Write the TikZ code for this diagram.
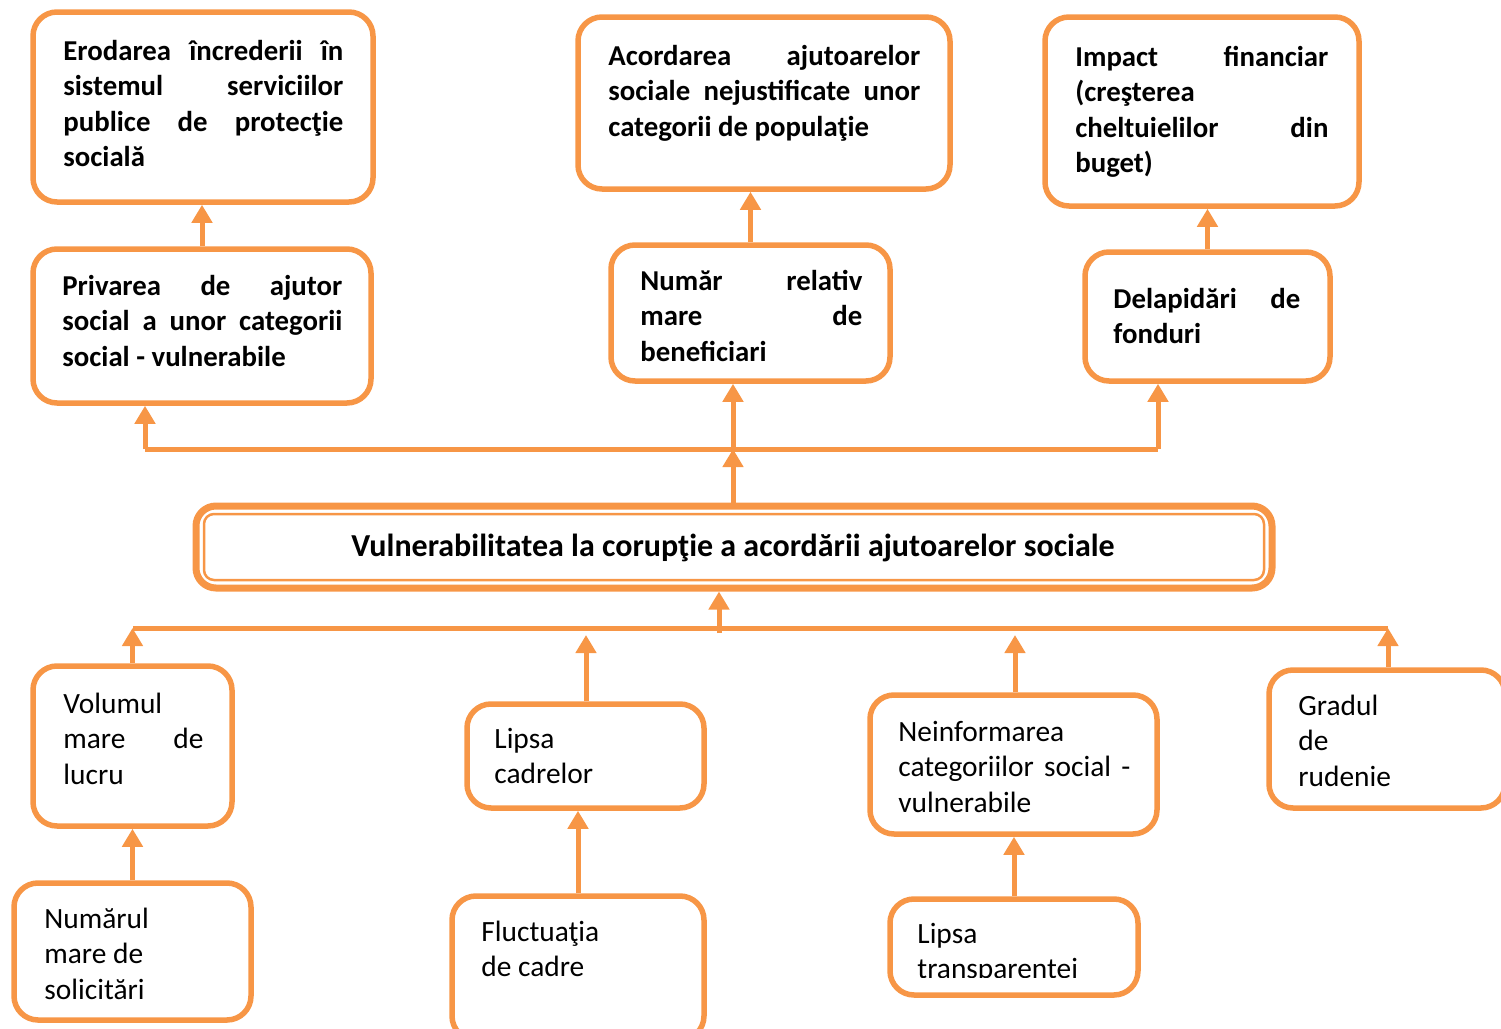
\documentclass[tikz,border=0pt]{standalone}
\usepackage{fontspec}
\setmainfont{Carlito}
\usetikzlibrary{arrows.meta,fit}
\definecolor{org}{HTML}{F79646}
\newlength\pxu \setlength\pxu{0.5pt}
\newcommand\jl[1]{\makebox[\linewidth][s]{#1}}
\newcommand\tb[2]{\parbox[t]{#1\pxu}{\fontsize{14.4}{17.8}\selectfont\setlength\parindent{0pt}#2}}
\newcommand\tr[2]{\parbox[t]{#1\pxu}{\fontsize{14.7}{17.8}\selectfont\setlength\parindent{0pt}#2}}
\begin{document}
\begin{tikzpicture}[x=0.5pt,y=-0.5pt,
 box/.style={draw=org, line width=2.75pt, rounded corners=12pt, inner sep=0pt},
 con/.style={draw=org, line width=2.5pt},
 arr/.style={con, -{Triangle[width=10pt,length=9pt]}},
 txt/.style={anchor=base west, inner sep=0pt, font=\bfseries},
 rtxt/.style={anchor=base west, inner sep=0pt}]
\useasboundingbox (0,0) rectangle (1501,1029);
% top boxes
\node[box, fit={(33,12)(373,202)}] (b1) {};
\node[box, fit={(578,17)(950,189)}] (b2) {};
\node[box, fit={(1045,17)(1359,206)}] (b3) {};
\node[box, fit={(33,249)(371,403)}] (b4) {};
\node[box, fit={(611,245)(890,381)}] (b5) {};
\node[box, fit={(1085,252)(1330,381)}] (b6) {};
\node[txt] (t1) at (63,60) {\tb{280}{\jl{Erodarea încrederii în}\\\jl{sistemul serviciilor}\\\jl{publice de protecţie}\\socială}};
\node[txt] (t2) at (608,65) {\tb{312}{\jl{Acordarea ajutoarelor}\\\jl{sociale nejustificate unor}\\categorii de populaţie}};
\node[txt] (t3) at (1075,66) {\tb{253}{\jl{Impact financiar}\\(creşterea\\\jl{cheltuielilor din}\\buget)}};
\node[txt] (t4) at (62,295) {\tb{280}{\jl{Privarea de ajutor}\\\jl{social a unor categorii}\\social - vulnerabile}};
\node[txt] (t5) at (640,290) {\tb{222}{\jl{Număr relativ}\\\jl{mare de}\\beneficiari}};
\node[txt] (t6) at (1113,308) {\tb{187}{\jl{Delapidări de}\\fonduri}};
% central box
\node[draw=org, line width=3.5pt, rounded corners=10pt, inner sep=0pt, fit={(196,506)(1272,588)}] (cb) {};
\node[draw=org, line width=1.25pt, rounded corners=5pt, inner sep=0pt, fit={(204,514)(1264,580)}] (cbi) {};
\node[inner sep=0pt, font=\bfseries\fontsize{16}{19}\selectfont] (ct) at (733,548) {Vulnerabilitatea la corupţie a acordării ajutoarelor sociale};
% bottom boxes
\node[box, fit={(33,666)(232,826)}] (b8) {};
\node[box, fit={(467,704)(704,808)}] (b9) {};
\node[box, fit={(870,695)(1157,834)}] (b10) {};
\node[box, fit={(1269,670)(1505,808)}] (b11) {};
\node[box, fit={(14,883)(251,1020)}] (b12) {};
\node[box, fit={(452,896)(704,1040)}] (b13) {};
\node[box, fit={(890,899)(1138,995)}] (b14) {};
\node[rtxt] (t8) at (63,713) {\tr{140}{Volumul\\\jl{mare de}\\lucru}};
\node[rtxt] (t9) at (494,748) {\tr{180}{Lipsa\\cadrelor}};
\node[rtxt] (t10) at (898,741) {\tr{232}{Neinformarea\\\jl{categoriilor social -}\\vulnerabile}};
\node[rtxt] (t11) at (1298,715) {\tr{180}{Gradul\\de\\rudenie}};
\node[rtxt] (t12) at (44,928) {\tr{180}{Numărul\\mare de\\solicitări}};
\node[rtxt] (t13) at (481,941) {\tr{200}{Fluctuaţia\\de cadre}};
\begin{scope}
\clip (880,890) rectangle (1140,977);
\node[rtxt] (t14) at (917,943) {\tr{200}{Lipsa\\transparenţei}};
\end{scope}
% upper connectors
\draw[arr] (b4.north) -- (b4.north |- b1.south);
\draw[arr] (b5.north) -- (b5.north |- b2.south);
\draw[arr] (b6.north) -- (b6.north |- b3.south);
\coordinate (hl) at (145,449);
\coordinate (hm) at (733,449);
\coordinate (hr) at (1158,449);
\draw[con] (hl) -- (hr);
\draw[arr] (hl) -- (hl |- b4.south);
\draw[arr] (hm) -- (hm |- b5.south);
\draw[arr] (hr) -- (hr |- b6.south);
\draw[arr] (hm |- cb.north) -- (hm);
% lower connectors
\coordinate (bl) at (133,628);
\coordinate (br) at (1388,628);
\coordinate (bm) at (719,633);
\coordinate (a9) at (586,635);
\coordinate (a10) at (1015,635);
\draw[con] (bl) -- (br);
\draw[arr] (bm) -- (bm |- cb.south);
\draw[arr] (b8.north) -- (b8.north |- bl);
\draw[arr] (a9 |- b9.north) -- (a9);
\draw[arr] (a10 |- b10.north) -- (a10);
\draw[arr] (br |- b11.north) -- (br);
\draw[arr] (b12.north) -- (b12.north |- b8.south);
\draw[arr] (b13.north) -- (b13.north |- b9.south);
\draw[arr] (b14.north) -- (b14.north |- b10.south);
\end{tikzpicture}
\end{document}
